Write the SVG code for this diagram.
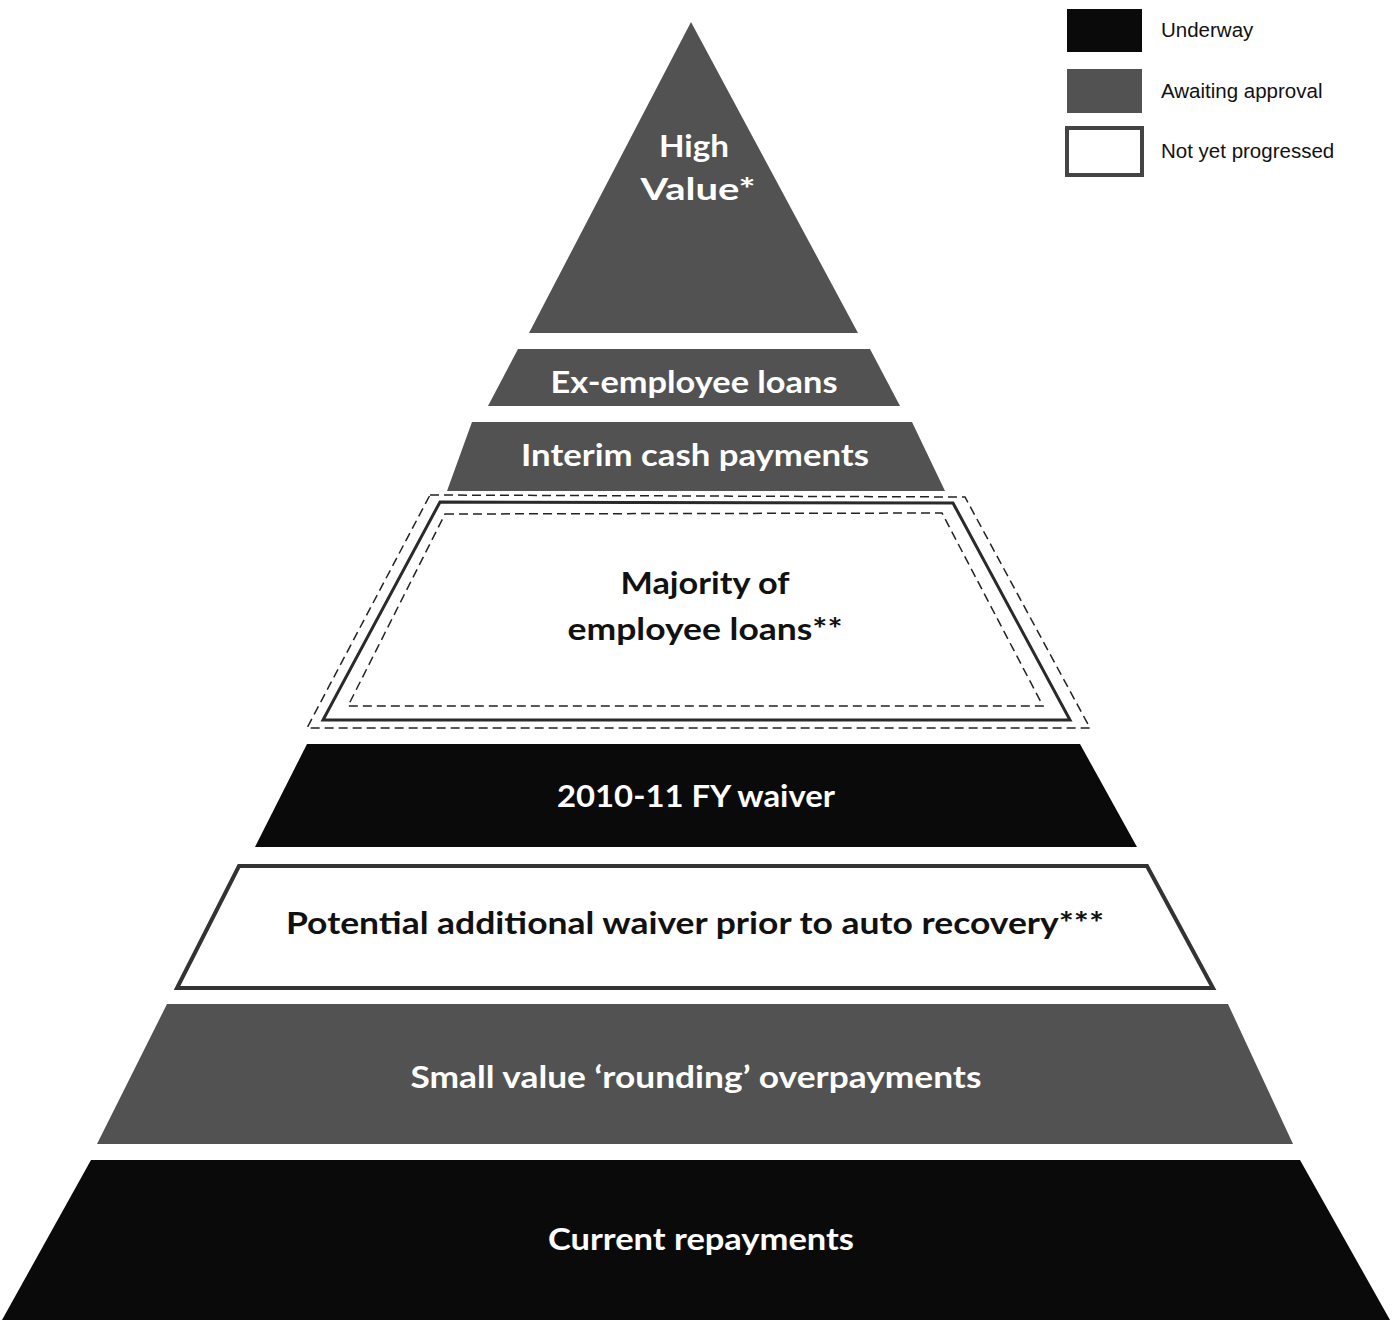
<svg xmlns="http://www.w3.org/2000/svg" width="1397" height="1320" viewBox="0 0 1397 1320">
<style>
.gray{fill:#525252}
.black{fill:#0a0a0a}
.open{fill:#ffffff;stroke:#2a2a2a;stroke-width:3}
.dash{fill:none;stroke:#222;stroke-width:1.5;stroke-dasharray:9 5}
.lbl{font-family:Lato,"Open Sans","Liberation Sans",sans-serif;font-weight:700;font-size:31px;text-anchor:middle}
.w{fill:#ffffff}
.k{fill:#111111}
.leg{font-family:"Liberation Sans",Arial,sans-serif;font-size:20.5px;fill:#111}
</style>
<rect width="1397" height="1320" fill="#ffffff"/>

<g id="legend">
  <rect x="1067" y="9" width="75" height="43" class="black"/>
  <text x="1161" y="37" class="leg">Underway</text>
  <rect x="1067" y="69" width="75" height="44" class="gray"/>
  <text x="1161" y="98" class="leg">Awaiting approval</text>
  <rect x="1067" y="128" width="75" height="47" fill="#fff" stroke="#444" stroke-width="4"/>
  <text x="1161" y="158" class="leg">Not yet progressed</text>
</g>

<g id="high-value">
  <polygon points="691,22 858,333 529,333" class="gray"/>
  <text x="694" y="157" class="lbl w" textLength="70" lengthAdjust="spacingAndGlyphs">High</text>
  <text x="698" y="200" class="lbl w" textLength="115" lengthAdjust="spacingAndGlyphs">Value*</text>
</g>

<g id="ex-employee-loans">
  <polygon points="518,349 870,349 900,406 488,406" class="gray"/>
  <text x="694" y="393" class="lbl w" textLength="287" lengthAdjust="spacingAndGlyphs">Ex-employee loans</text>
</g>

<g id="interim-cash-payments">
  <polygon points="472,422 912,422 945,491 447,491" class="gray"/>
  <text x="695" y="466" class="lbl w" textLength="348" lengthAdjust="spacingAndGlyphs">Interim cash payments</text>
</g>

<g id="majority-employee-loans">
  <polygon points="430,495 965,497 1090,728 307,728" class="dash"/>
  <polygon points="440,502 953,503 1070,720 323,720" class="open"/>
  <polygon points="445,514 942,513 1043,706 348,706" class="dash"/>
  <text x="705" y="594" class="lbl k" textLength="169" lengthAdjust="spacingAndGlyphs">Majority of</text>
  <text x="705" y="640" class="lbl k" textLength="275" lengthAdjust="spacingAndGlyphs">employee loans**</text>
</g>

<g id="fy-waiver">
  <polygon points="307,744 1080,744 1137,847 255,847" class="black"/>
  <text x="696" y="807" class="lbl w" textLength="278" lengthAdjust="spacingAndGlyphs">2010-11 FY waiver</text>
</g>

<g id="potential-waiver">
  <polygon points="239,866 1147,866 1213,988 177,988" fill="#fff" stroke="#333" stroke-width="4"/>
  <text x="695" y="934" class="lbl k" textLength="818" lengthAdjust="spacingAndGlyphs">Potential additional waiver prior to auto recovery***</text>
</g>

<g id="small-value">
  <polygon points="167,1004 1228,1004 1293,1144 97,1144" class="gray"/>
  <text x="696" y="1088" class="lbl w" textLength="571" lengthAdjust="spacingAndGlyphs">Small value ‘rounding’ overpayments</text>
</g>

<g id="current-repayments">
  <polygon points="91,1160 1300,1160 1390,1320 2,1320" class="black"/>
  <text x="701" y="1250" class="lbl w" textLength="306" lengthAdjust="spacingAndGlyphs">Current repayments</text>
</g>
</svg>
